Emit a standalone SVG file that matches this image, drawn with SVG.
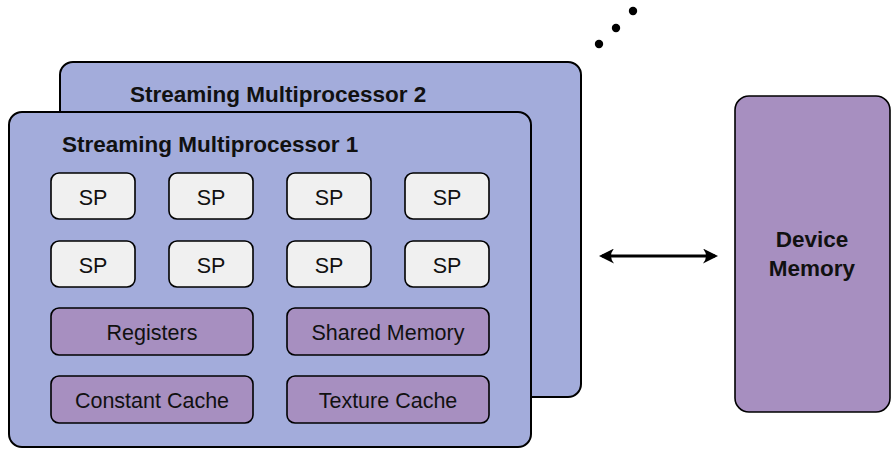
<svg xmlns="http://www.w3.org/2000/svg" width="892" height="449" viewBox="0 0 892 449">
<defs>
<style>
.sm{fill:#A3ACDB;stroke:#000;stroke-width:2}
.sp{fill:#F0F0F0;stroke:#000;stroke-width:1.6}
.mem{fill:#A78FC0;stroke:#000;stroke-width:1.6}
.t{font-family:"Liberation Sans",Arial,sans-serif;font-size:21.5px;fill:#111;text-anchor:middle}
.b{font-family:"Liberation Sans",Arial,sans-serif;font-size:22.5px;font-weight:bold;fill:#111}
</style>
<marker id="ah" viewBox="0 0 10 10" refX="8" refY="5" markerWidth="5" markerHeight="5" orient="auto-start-reverse" markerUnits="strokeWidth">
<path d="M0,0 Q4,5 0,10 L10,5 Z" fill="#000"/>
</marker>
</defs>
<g id="dots">
<circle cx="599" cy="44" r="4.2" fill="#000"/>
<circle cx="616" cy="28" r="4.2" fill="#000"/>
<circle cx="633" cy="11" r="4.2" fill="#000"/>
</g>
<g id="sm2">
<rect class="sm" x="60" y="62" width="521" height="335" rx="13"/>
<text class="b" x="130" y="102">Streaming Multiprocessor 2</text>
</g>
<g id="sm1">
<rect class="sm" x="9" y="112" width="522" height="335" rx="13"/>
<text class="b" x="62" y="152">Streaming Multiprocessor 1</text>
</g>
<g id="sp-r1c1"><rect class="sp" x="51" y="173" width="84" height="46" rx="8"/><text class="t" x="93" y="205">SP</text></g>
<g id="sp-r1c2"><rect class="sp" x="169" y="173" width="84" height="46" rx="8"/><text class="t" x="211" y="205">SP</text></g>
<g id="sp-r1c3"><rect class="sp" x="287" y="173" width="84" height="46" rx="8"/><text class="t" x="329" y="205">SP</text></g>
<g id="sp-r1c4"><rect class="sp" x="405" y="173" width="84" height="46" rx="8"/><text class="t" x="447" y="205">SP</text></g>
<g id="sp-r2c1"><rect class="sp" x="51" y="241" width="84" height="46" rx="8"/><text class="t" x="93" y="273">SP</text></g>
<g id="sp-r2c2"><rect class="sp" x="169" y="241" width="84" height="46" rx="8"/><text class="t" x="211" y="273">SP</text></g>
<g id="sp-r2c3"><rect class="sp" x="287" y="241" width="84" height="46" rx="8"/><text class="t" x="329" y="273">SP</text></g>
<g id="sp-r2c4"><rect class="sp" x="405" y="241" width="84" height="46" rx="8"/><text class="t" x="447" y="273">SP</text></g>
<g id="registers"><rect class="mem" x="51" y="308" width="202" height="47" rx="8"/><text class="t" x="152" y="340">Registers</text></g>
<g id="shared-memory"><rect class="mem" x="287" y="308" width="202" height="47" rx="8"/><text class="t" x="388" y="340">Shared Memory</text></g>
<g id="constant-cache"><rect class="mem" x="51" y="376" width="202" height="47" rx="8"/><text class="t" x="152" y="408">Constant Cache</text></g>
<g id="texture-cache"><rect class="mem" x="287" y="376" width="202" height="47" rx="8"/><text class="t" x="388" y="408">Texture Cache</text></g>
<g id="device-memory">
<rect class="mem" x="735" y="96" width="155" height="316" rx="14"/>
<text class="b" x="812" y="247" text-anchor="middle">Device</text>
<text class="b" x="812" y="276" text-anchor="middle">Memory</text>
</g>
<g id="connectors">
<line x1="602" y1="256" x2="715" y2="256" stroke="#000" stroke-width="3" marker-start="url(#ah)" marker-end="url(#ah)"/>
</g>
</svg>
